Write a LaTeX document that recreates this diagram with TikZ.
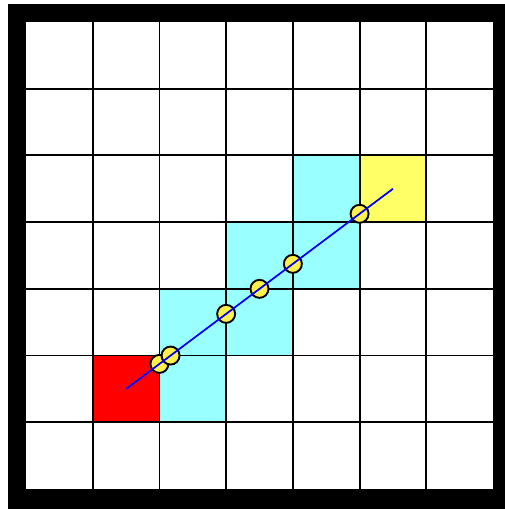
\documentclass[tikz,border=0pt]{standalone}
\usepackage{tikz}
\definecolor{cellcyan}{HTML}{99FFFF}
\definecolor{cellyellow}{HTML}{FFFF66}
\definecolor{hityellow}{HTML}{FFF04A}
\tikzset{
  hit/.style={fill=hityellow,draw=black,line width=0.8pt},
  ray/.style={blue,line width=0.75pt}
}
\begin{document}
\begin{tikzpicture}[x=1cm,y=1cm]
  \useasboundingbox (-0.39,-0.30) rectangle (7.18,7.33);
  % frame
  \fill[black] (-0.27,-0.40) rectangle (7.30,7.27);
  \fill[white] (0,0) rectangle (7,7);
  % visited cells
  \fill[red] (1,1) rectangle ++(1,1);
  \foreach \c/\r in {2/1,2/2,3/2,3/3,4/3,4/4}
    \fill[cellcyan] (\c,\r) rectangle ++(1,1);
  \fill[cellyellow] (5,4) rectangle ++(1,1);
  % grid
  \foreach \v in {1,...,6}{
    \draw[black,line width=0.8pt] (\v,0) -- (\v,7);
    \draw[black,line width=0.8pt] (0,\v) -- (7,\v);}
  % crossings
  \foreach \x/\y in {2/1.875,2.1667/2,3/2.625,3.5/3,4/3.375,5/4.125}
    \draw[hit] (\x,\y) circle (0.135);
  % ray
  \coordinate (start) at (1.5,1.5);
  \coordinate (end) at (5.5,4.5);
  \draw[ray] (start) -- (end);
\end{tikzpicture}
\end{document}
